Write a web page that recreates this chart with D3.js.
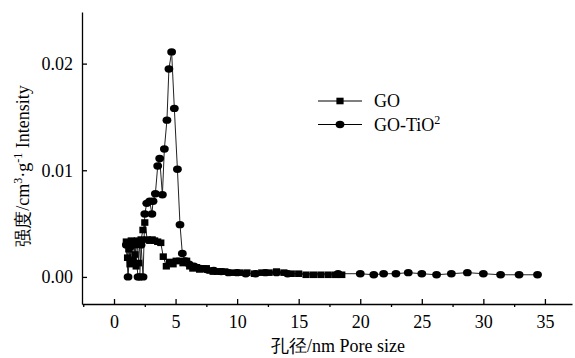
<!DOCTYPE html>
<html>
<head>
<meta charset="utf-8">
<script src="https://cdn.jsdelivr.net/npm/d3@7"></script>
<style>
  html, body { margin: 0; padding: 0; background: #fff; }
  svg { display: block; }
  text { font-family: "Liberation Serif", "Times New Roman", serif; fill: #000; }
</style>
</head>
<body>
<svg id="chart" width="575" height="358"></svg>
<script>
// Pore size distribution (BJH) for GO and GO-TiO2
const goX = [1.0, 1.1, 1.2, 1.3, 1.4, 1.5, 1.6, 1.7, 1.8, 1.9, 2.0, 2.1, 2.2, 2.35, 2.5, 2.7, 2.9, 3.1, 3.3, 3.55,
             3.8, 4.0, 4.25, 4.5, 4.8, 5.05, 5.35, 5.6, 5.9, 6.15, 6.4, 6.7, 6.95, 7.2, 7.5, 7.8, 8.05, 8.4, 8.7,
             9.0, 9.6, 10.2, 10.8, 11.4, 12.0, 12.6, 13.2, 13.8, 14.4, 15.0, 15.6, 16.2, 16.8, 17.4, 18.0, 18.5];
const goY = [0.0033, 0.0018, 0.0026, 0.0012, 0.0034, 0.0016, 0.0033, 0.0021, 0.0010, 0.0034, 0.0013, 0.0033, 0.0035, 0.0044, 0.0051, 0.0035, 0.0034, 0.0035, 0.0034, 0.0033,
             0.0032, 0.0019, 0.0010, 0.0014, 0.0012, 0.0015, 0.0015, 0.0013, 0.0015, 0.0010, 0.0008, 0.0009, 0.0007, 0.0008, 0.0008, 0.0006, 0.0005, 0.0005, 0.0005,
             0.0005, 0.0004, 0.0004, 0.0004, 0.0003, 0.0004, 0.0004, 0.0005, 0.0004, 0.0003, 0.0003, 0.0002, 0.0002, 0.0002, 0.0002, 0.0002, 0.0002];

const tioX = [1.0, 1.14, 1.3, 1.5, 1.7, 1.95, 2.09, 2.2, 2.36, 2.5, 2.66, 2.9, 3.08, 3.17, 3.36, 3.55, 3.71, 3.93, 4.09, 4.30,
              4.46, 4.68, 4.90, 5.15, 5.36, 5.55, 5.8, 6.1, 6.5, 7.0, 7.5, 8.1, 8.7, 9.3, 10.0, 10.7, 11.5, 12.3, 13.2, 14.1,
              18.2, 20.0, 21.1, 21.9, 22.9, 23.9, 25.0, 26.2, 27.4, 28.7, 30.0, 31.4, 32.9, 34.4];
const tioY = [0.0030, 0.0000, 0.0028, 0.0032, 0.0030, 0.0000, 0.0000, 0.0030, 0.0000, 0.0059, 0.0069, 0.0071, 0.0059, 0.0071, 0.0078, 0.0104, 0.0111, 0.0077, 0.0120, 0.0147,
              0.0195, 0.0211, 0.0158, 0.0101, 0.0049, 0.0022, 0.0015, 0.0012, 0.0010, 0.0008, 0.0007, 0.0006, 0.0005, 0.0004, 0.0004, 0.0003, 0.0003, 0.0004, 0.0004, 0.0003,
              0.0003, 0.0003, 0.0002, 0.0003, 0.0003, 0.0004, 0.0003, 0.0002, 0.0003, 0.0004, 0.0003, 0.0002, 0.0002, 0.0002];

const xMajorTicks = [0, 5, 10, 15, 20, 25, 30, 35];
const xMinorTicks = [-2.5, 2.5, 7.5, 12.5, 17.5, 22.5, 27.5, 32.5];
const yTicks = [0.00, 0.01, 0.02];

const svg = d3.select("#chart");
const x = d3.scaleLinear().domain([-2.6, 37.2]).range([82, 572]);
const y = d3.scaleLinear().domain([-0.00254, 0.02484]).range([304, 12]);

// axes
const xAxis = svg.append("g").attr("transform", "translate(0,304)")
  .call(d3.axisBottom(x).tickValues(xMajorTicks).tickFormat(d3.format("d"))
    .tickSizeInner(-5).tickSizeOuter(0).tickPadding(11));
xAxis.select(".domain").attr("stroke", "#000").attr("stroke-width", 1.3);
xAxis.selectAll(".tick line").attr("stroke-width", 1.3);
xAxis.selectAll("text").attr("font-size", 18);

const xMinor = svg.append("g").attr("transform", "translate(0,304)")
  .call(d3.axisBottom(x).tickValues(xMinorTicks).tickFormat("").tickSizeInner(3).tickSizeOuter(0));
xMinor.select(".domain").remove();
xMinor.selectAll(".tick line").attr("stroke-width", 1.3);

const yAxis = svg.append("g").attr("transform", "translate(82,0)")
  .call(d3.axisLeft(y).tickValues(yTicks).tickFormat(d3.format(".2f"))
    .tickSizeInner(-5).tickSizeOuter(0).tickPadding(9));
yAxis.select(".domain").attr("stroke", "#000").attr("stroke-width", 1.3);
yAxis.selectAll(".tick line").attr("stroke-width", 1.3);
yAxis.selectAll("text").attr("font-size", 18);

// axis titles
svg.append("text").attr("x", 338).attr("y", 352).attr("text-anchor", "middle")
  .attr("font-size", 18).text("孔径/nm Pore size");

const yt = svg.append("text").attr("transform", "translate(29,166) rotate(-90)")
  .attr("text-anchor", "middle").attr("font-size", 18);
yt.append("tspan").text("强度/cm");
yt.append("tspan").attr("font-size", 12).attr("dy", -7).text("3");
yt.append("tspan").attr("dy", 7).text("·g");
yt.append("tspan").attr("font-size", 12).attr("dy", -7).text("-1");
yt.append("tspan").attr("dy", 7).text(" Intensity");

// series
const line = d3.line().x(d => x(d[0])).y(d => y(d[1]));
const goData = goX.map((v, i) => [v, goY[i]]);
const tioData = tioX.map((v, i) => [v, tioY[i]]);

svg.append("path").datum(goData).attr("d", line)
  .attr("fill", "none").attr("stroke", "#222").attr("stroke-width", 1);
svg.append("path").datum(tioData).attr("d", line)
  .attr("fill", "none").attr("stroke", "#222").attr("stroke-width", 1);

svg.append("g").selectAll("rect").data(goData).join("rect")
  .attr("x", d => x(d[0]) - 3.6).attr("y", d => y(d[1]) - 3.3)
  .attr("width", 7.2).attr("height", 6.6).attr("fill", "#000");

svg.append("g").selectAll("ellipse").data(tioData).join("ellipse")
  .attr("cx", d => x(d[0])).attr("cy", d => y(d[1]))
  .attr("rx", 4.4).attr("ry", 3.7).attr("fill", "#000");

// legend
const lg = svg.append("g");
lg.append("line").attr("x1", 318).attr("x2", 362).attr("y1", 101).attr("y2", 101).attr("stroke", "#000").attr("stroke-width", 1);
lg.append("rect").attr("x", 336.4).attr("y", 97.7).attr("width", 7.2).attr("height", 6.6).attr("fill", "#000");
lg.append("text").attr("x", 374).attr("y", 107).attr("font-size", 18).text("GO");

lg.append("line").attr("x1", 318).attr("x2", 362).attr("y1", 124.5).attr("y2", 124.5).attr("stroke", "#000").attr("stroke-width", 1);
lg.append("ellipse").attr("cx", 340).attr("cy", 124.5).attr("rx", 4.4).attr("ry", 3.7).attr("fill", "#000");
const lt = lg.append("text").attr("x", 374).attr("y", 131).attr("font-size", 18);
lt.append("tspan").text("GO-TiO");
lt.append("tspan").attr("font-size", 12).attr("dy", -7).text("2");
</script>
</body>
</html>
